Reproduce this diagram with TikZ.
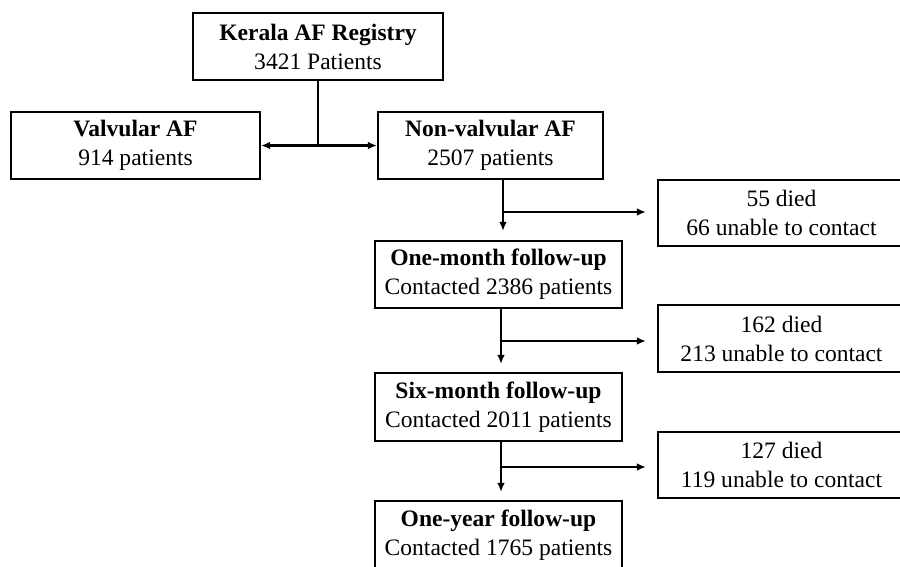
\documentclass[tikz,border=0pt]{standalone}
\usepackage{fontspec}
\setmainfont{Liberation Serif}
\usetikzlibrary{arrows.meta}

\begin{document}
\begin{tikzpicture}[x=0.02cm,y=-0.02cm,>={Latex[length=1.8mm,width=1.5mm]},font=\fontsize{13.4}{16.5}\selectfont]
	
	\tikzstyle{box}=[draw=black,line width=1.2pt,rectangle,align=center,inner sep=0pt]
	\tikzstyle{line}=[line width=1.2pt]
	
	\useasboundingbox (0,0) rectangle (900,566);
	\clip (0,0) rectangle (900,566);
	
	\node[box,minimum width=5cm,minimum height=1.34cm] (reg) at (318,46.5) {\textbf{Kerala AF Registry}\\3421 Patients};
	\node[box,minimum width=4.98cm,minimum height=1.34cm] (valv) at (135.5,145.5) {\textbf{Valvular AF}\\914 patients};
	\node[box,minimum width=4.5cm,minimum height=1.34cm] (nonv) at (490.5,145.5) {\textbf{Non-valvular AF}\\2507 patients};
	\node[box,minimum width=4.94cm,minimum height=1.34cm] (one) at (498.5,274.5) {\textbf{One-month follow-up}\\Contacted 2386 patients};
	\node[box,minimum width=4.94cm,minimum height=1.36cm] (six) at (498.5,407) {\textbf{Six-month follow-up}\\Contacted 2011 patients};
	\node[box,minimum width=4.94cm,minimum height=1.36cm] (year) at (498.5,535) {\textbf{One-year follow-up}\\Contacted 1765 patients};
	\node[box,minimum width=4.94cm,minimum height=1.32cm] (ex1) at (781.5,213) {55 died\\66 unable to contact};
	\node[box,minimum width=4.94cm,minimum height=1.34cm] (ex2) at (781.5,338.5) {162 died\\213 unable to contact};
	\node[box,minimum width=4.94cm,minimum height=1.32cm] (ex3) at (781.5,465) {127 died\\119 unable to contact};
	
	\coordinate (j0) at (reg.south |- valv.east);
	\coordinate (j1) at (503,212);
	\coordinate (j2) at (501,341);
	\coordinate (j3) at (501,467);
	
	\draw[line] (reg.south) -- (j0);
	\draw[line,->] (j0) -- (valv.east);
	\draw[line,->] (j0) -- (nonv.west);
	
	\draw[line,->,shorten >=0.18cm] (j1 |- nonv.south) -- (j1 |- one.north);
	\draw[line,->,shorten >=0.22cm] (j1) -- (j1 -| ex1.west);
	\draw[line,->,shorten >=0.16cm] (j2 |- one.south) -- (j2 |- six.north);
	\draw[line,->,shorten >=0.22cm] (j2) -- (j2 -| ex2.west);
	\draw[line,->,shorten >=0.16cm] (j3 |- six.south) -- (j3 |- year.north);
	\draw[line,->,shorten >=0.22cm] (j3) -- (j3 -| ex3.west);
	
\end{tikzpicture}
\end{document}
